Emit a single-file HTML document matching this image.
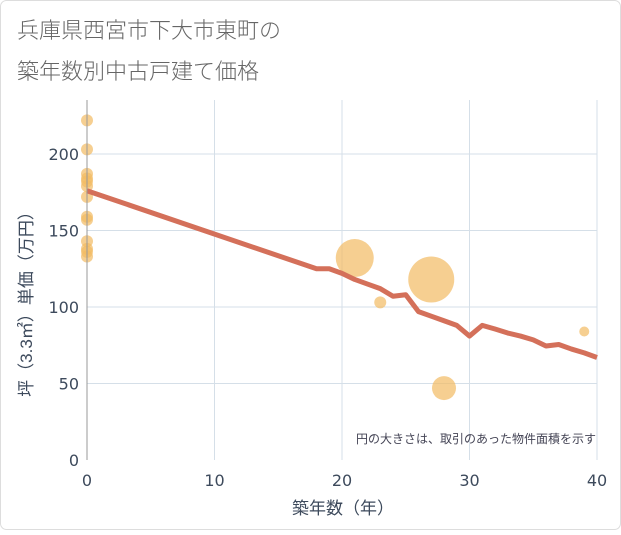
<!DOCTYPE html>
<html><head><meta charset="utf-8"><style>
body{margin:0;background:#fff;}
svg text{font-family:"Liberation Sans","Noto Sans CJK JP",sans-serif;}
svg text.tick{font-family:"DejaVu Sans","Liberation Sans",sans-serif;}
</style></head><body>
<svg width="621" height="530" viewBox="0 0 621 530">
<rect x="0.5" y="0.5" width="620" height="529" rx="6" fill="#fff" stroke="#ddd"/>
<text x="17" y="38" font-size="22" fill="#666" font-weight="300">兵庫県西宮市下大市東町の</text>
<text x="17" y="79" font-size="22" fill="#666" font-weight="300">築年数別中古戸建て価格</text>
<g id="grid"></g>
<g id="yticks"></g>
<g id="xticks"></g>
<g id="bubbles"></g>
<path id="trend" fill="none" stroke="#d4705a" stroke-width="5" stroke-linejoin="round"/>
<line x1="87" y1="100" x2="87" y2="460" stroke="#999"/>
<text x="596" y="443" font-size="12" fill="#445" text-anchor="end">円の大きさは、取引のあった物件面積を示す</text>
<text x="343" y="514" font-size="17" fill="#3d4a5c" text-anchor="middle">築年数（年）</text>
<text transform="translate(32,300) rotate(-90)" font-size="17" fill="#3d4a5c" text-anchor="middle">坪（3.3㎡）単価（万円）</text>
</svg>
<script>
const xTicks=[0,10,20,30,40];
const yTicks=[0,50,100,150,200];
const bubbleX=[0,0,0,0,0,0,0,0,0,0,0,0,0,21,23,27,28,39];
const bubbleY=[222,203,187,184,182,179,172,159,157,143,138,136,133,132,103,118,47,84];
const bubbleR=[6,6,6,6,6,6,6,6,6,6,6,6,6,19,6,23,12,5];
const lineX=[0,18,19,20,21,22,23,24,25,26,27,28,29,30,31,32,33,34,35,36,37,38,39,40];
const lineY=[176,125,125,122,118,115,112,107,108,97,94,91,88,81,88,85.6,83,81,78.5,74.5,75.5,72.5,70,67];
const sx=v=>87+v*12.75;
const sy=v=>460-v*1.53;
const NS="http://www.w3.org/2000/svg";
const grid=document.getElementById('grid'),yt=document.getElementById('yticks'),xt=document.getElementById('xticks'),bb=document.getElementById('bubbles');
yTicks.forEach(t=>{
 if(t>0){const l=document.createElementNS(NS,'line');
 
 
 l.setAttribute('x1',87);l.setAttribute('x2',597);l.setAttribute('y1',sy(t));l.setAttribute('y2',sy(t));l.setAttribute('stroke','#d5dfe8');grid.appendChild(l);}
 const tx=document.createElementNS(NS,'text');
 
 
 tx.setAttribute('class','tick');
 tx.setAttribute('x',79);tx.setAttribute('y',sy(t)+6);tx.setAttribute('text-anchor','end');tx.setAttribute('font-size','16');tx.setAttribute('fill','#3d4a5c');tx.textContent=t;yt.appendChild(tx);
});
xTicks.forEach(t=>{
 if(t>0){const l=document.createElementNS(NS,'line');
 
 
 l.setAttribute('x1',sx(t));l.setAttribute('x2',sx(t));l.setAttribute('y1',100);l.setAttribute('y2',460);l.setAttribute('stroke','#d5dfe8');grid.appendChild(l);}
 const tx=document.createElementNS(NS,'text');
 
 
 tx.setAttribute('class','tick');
 tx.setAttribute('x',sx(t));tx.setAttribute('y',486);tx.setAttribute('text-anchor','middle');tx.setAttribute('font-size','16');tx.setAttribute('fill','#3d4a5c');tx.textContent=t;xt.appendChild(tx);
});
bubbleX.forEach((x,i)=>{
 const c=document.createElementNS(NS,'circle');
 
 
 c.setAttribute('cx',sx(x));c.setAttribute('cy',sy(bubbleY[i]));c.setAttribute('r',bubbleR[i]);c.setAttribute('fill','rgba(242,186,98,0.7)');bb.appendChild(c);
});
document.getElementById('trend').setAttribute('d',lineX.map((x,i)=>(i?'L':'M')+sx(x)+','+sy(lineY[i])).join(''));
</script>
</body></html>
